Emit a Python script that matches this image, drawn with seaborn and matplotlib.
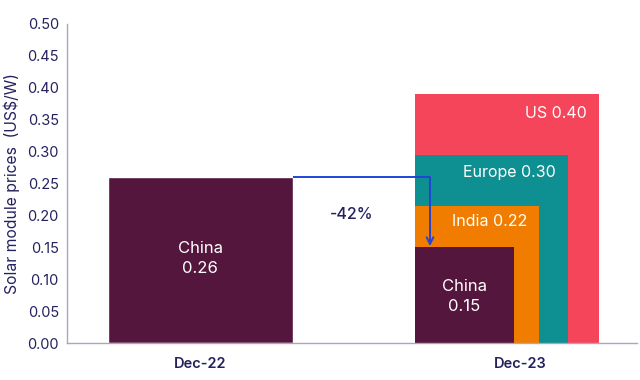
import matplotlib
matplotlib.use("Agg")
import matplotlib.pyplot as plt
import seaborn as sns
import numpy as np

# ---- data ----
periods = ["Dec-22", "Dec-23"]
dec22_value = 0.26
dec22_label = "China\n0.26"
dec23_regions = ["US", "Europe", "India", "China"]
dec23_values = [0.39, 0.295, 0.215, 0.15]
dec23_labels = ["US 0.40", "Europe 0.30", "India 0.22", "China\n0.15"]
change_label = "-42%"
y_ticks = [0.00, 0.05, 0.10, 0.15, 0.20, 0.25, 0.30, 0.35, 0.40, 0.45, 0.50]
y_label = "Solar module prices  (US$/W)"

# ---- style ----
sns.set_theme(style="white")
plt.rcParams["font.family"] = ["Inter", "DejaVu Sans"]

navy = "#24215F"
maroon = "#54163C"
colors = {"US": "#F5455A", "Europe": "#0E8F92", "India": "#F07D00", "China": maroon}
widths = {"US": 0.575, "Europe": 0.478, "India": 0.387, "China": 0.309}
left_edge = 0.672

fig = plt.figure(figsize=(6.4, 3.8), dpi=100)
ax = fig.add_axes([0.105, 0.097, 0.89, 0.84])

# Dec-22 bar via seaborn
sns.barplot(x=periods, y=[dec22_value, 0.0], order=periods, color=maroon,
            width=0.578, saturation=1, ax=ax)

# Dec-23 nested bars
for reg, val in zip(dec23_regions, dec23_values):
    ax.bar(left_edge, val, width=widths[reg], align="edge", color=colors[reg],
           linewidth=0, zorder=2)

# labels in bars
ax.text(0, 0.133, dec22_label, ha="center", va="center", color="white",
        fontsize=12, linespacing=1.45)
label_pos = {"US": 0.36, "Europe": 0.268, "India": 0.19}
for reg, lab in zip(dec23_regions, dec23_labels):
    if reg == "China":
        ax.text(left_edge + widths[reg] / 2 - 0.0, 0.073, lab, ha="center",
                va="center", color="white", fontsize=12, linespacing=1.45, zorder=3)
    else:
        ax.text(left_edge + widths[reg] - 0.037, label_pos[reg], lab, ha="right",
                va="center", color="white", fontsize=11.5, zorder=3)

# arrow
arrow_x = 0.719
ax.plot([0.289, arrow_x], [dec22_value, dec22_value], color="#2243D6", lw=1.4,
        zorder=4, solid_capstyle="butt")
ax.annotate("", xy=(arrow_x, dec23_values[-1] + 0.002), xytext=(arrow_x, dec22_value),
            arrowprops=dict(arrowstyle="->", color="#2243D6", lw=1.4,
                            shrinkA=0, shrinkB=0, mutation_scale=12), zorder=4)
ax.text(0.475, 0.201, change_label, ha="center", va="center", color=navy,
        fontsize=11.5, fontweight="medium")

# axes formatting
ax.set_ylim(0, 0.5)
ax.set_xlim(-0.416, 1.366)
ax.set_yticks(y_ticks)
ax.set_yticklabels([f"{t:.2f}" for t in y_ticks], color=navy, fontsize=10.5)
ax.set_xticks([0, 1])
ax.set_xticklabels(periods, color=navy, fontsize=10.5, fontweight="semibold")
ax.tick_params(axis="y", length=0, pad=6)
ax.tick_params(axis="x", length=0, pad=10)
ax.set_xlabel("")
ax.set_ylabel(y_label, color=navy, fontsize=11.3, labelpad=5)
for s in ["top", "right"]:
    ax.spines[s].set_visible(False)
for s in ["left", "bottom"]:
    ax.spines[s].set_color("#A9A7BF")
    ax.spines[s].set_linewidth(1.0)

fig.savefig("out.png", dpi=100)
